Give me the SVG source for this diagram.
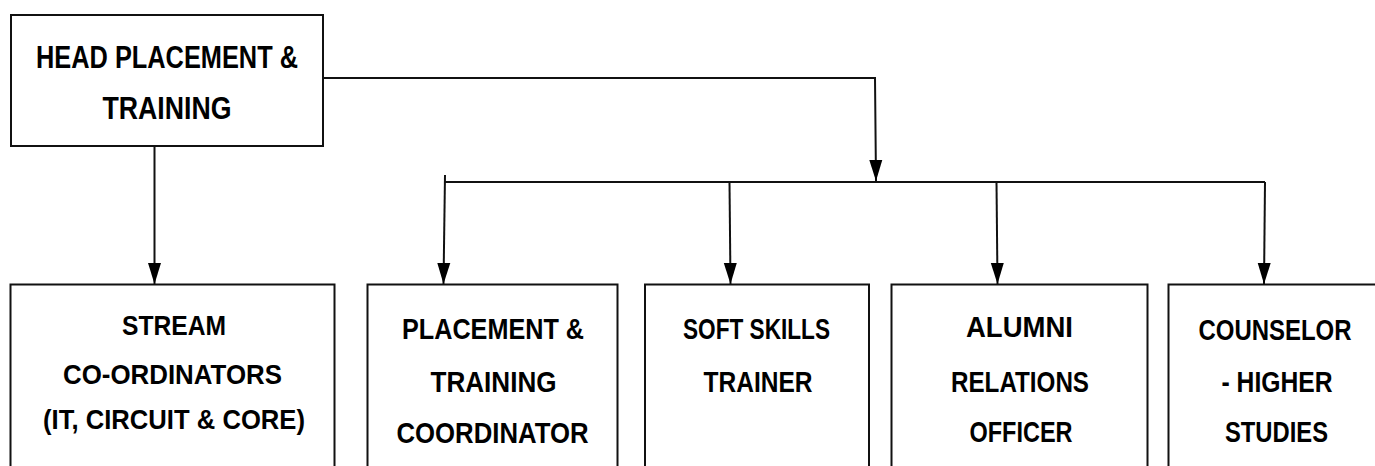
<svg xmlns="http://www.w3.org/2000/svg" width="1375" height="466" viewBox="0 0 1375 466">
<defs>
<style>
.box{fill:#fff;stroke:#111;stroke-width:2}
.lbl{font-family:"Liberation Sans Narrow","Liberation Sans",Arial,sans-serif;font-weight:bold;fill:#000;text-anchor:middle}
.h{font-size:32px}
.b{font-size:30px}
.s{font-size:28px}
.c{font-size:29px}
.con{fill:none;stroke:#111;stroke-width:2}
</style>
<marker id="arr" markerUnits="userSpaceOnUse" viewBox="0 -7 21 14" markerWidth="21" markerHeight="14" refX="21" refY="0" orient="auto">
<path d="M0,-6.5 L21,0 L0,6.5 z" fill="#000"/>
</marker>
</defs>
<rect width="1375" height="466" fill="#fff"/>
<g id="connectors">
<polyline class="con" points="323,78 875,78 876,181" marker-end="url(#arr)"/>
<line class="con" x1="154.5" y1="146" x2="154.5" y2="284" marker-end="url(#arr)"/>
<line class="con" x1="444" y1="182" x2="1265" y2="182"/>
<line class="con" x1="445" y1="175" x2="443.5" y2="284" marker-end="url(#arr)"/>
<line class="con" x1="729.5" y1="182" x2="730.5" y2="284" marker-end="url(#arr)"/>
<line class="con" x1="996.5" y1="182" x2="997.5" y2="284" marker-end="url(#arr)"/>
<line class="con" x1="1265" y1="182" x2="1264" y2="284" marker-end="url(#arr)"/>
</g>
<g id="head">
<rect class="box" x="11" y="15" width="312" height="131"/>
<text class="lbl h" x="167" y="68" textLength="262" lengthAdjust="spacingAndGlyphs">HEAD PLACEMENT &amp;</text>
<text class="lbl h" x="167" y="119" textLength="129" lengthAdjust="spacingAndGlyphs">TRAINING</text>
</g>
<g id="stream">
<rect class="box" x="10.5" y="284.5" width="324" height="200"/>
<text class="lbl s" x="174" y="335" textLength="104" lengthAdjust="spacingAndGlyphs">STREAM</text>
<text class="lbl s" x="172.5" y="384" textLength="219" lengthAdjust="spacingAndGlyphs">CO-ORDINATORS</text>
<text class="lbl s" x="174" y="429" textLength="262" lengthAdjust="spacingAndGlyphs">(IT, CIRCUIT &amp; CORE)</text>
</g>
<g id="placement">
<rect class="box" x="367.5" y="284.5" width="250" height="200"/>
<text class="lbl b" x="493" y="339" textLength="182" lengthAdjust="spacingAndGlyphs">PLACEMENT &amp;</text>
<text class="lbl b" x="493.5" y="391.5" textLength="126" lengthAdjust="spacingAndGlyphs">TRAINING</text>
<text class="lbl b" x="492.5" y="442.5" textLength="192" lengthAdjust="spacingAndGlyphs">COORDINATOR</text>
</g>
<g id="softskills">
<rect class="box" x="645" y="284.5" width="224" height="200"/>
<text class="lbl b" x="756.5" y="339" textLength="147" lengthAdjust="spacingAndGlyphs">SOFT SKILLS</text>
<text class="lbl b" x="758" y="391.5" textLength="109" lengthAdjust="spacingAndGlyphs">TRAINER</text>
</g>
<g id="alumni">
<rect class="box" x="891.5" y="284.5" width="256" height="200"/>
<text class="lbl b" x="1019.5" y="337" textLength="107" lengthAdjust="spacingAndGlyphs">ALUMNI</text>
<text class="lbl b" x="1020" y="391.5" textLength="138" lengthAdjust="spacingAndGlyphs">RELATIONS</text>
<text class="lbl b" x="1021" y="441.5" textLength="103" lengthAdjust="spacingAndGlyphs">OFFICER</text>
</g>
<g id="counselor">
<path class="box" d="M1375,284.5 H1168.5 V466"/>
<text class="lbl c" x="1275" y="340" textLength="153" lengthAdjust="spacingAndGlyphs">COUNSELOR</text>
<text class="lbl c" x="1277" y="391.5" textLength="111" lengthAdjust="spacingAndGlyphs">- HIGHER</text>
<text class="lbl c" x="1276.5" y="441.5" textLength="103" lengthAdjust="spacingAndGlyphs">STUDIES</text>
</g>
</svg>
